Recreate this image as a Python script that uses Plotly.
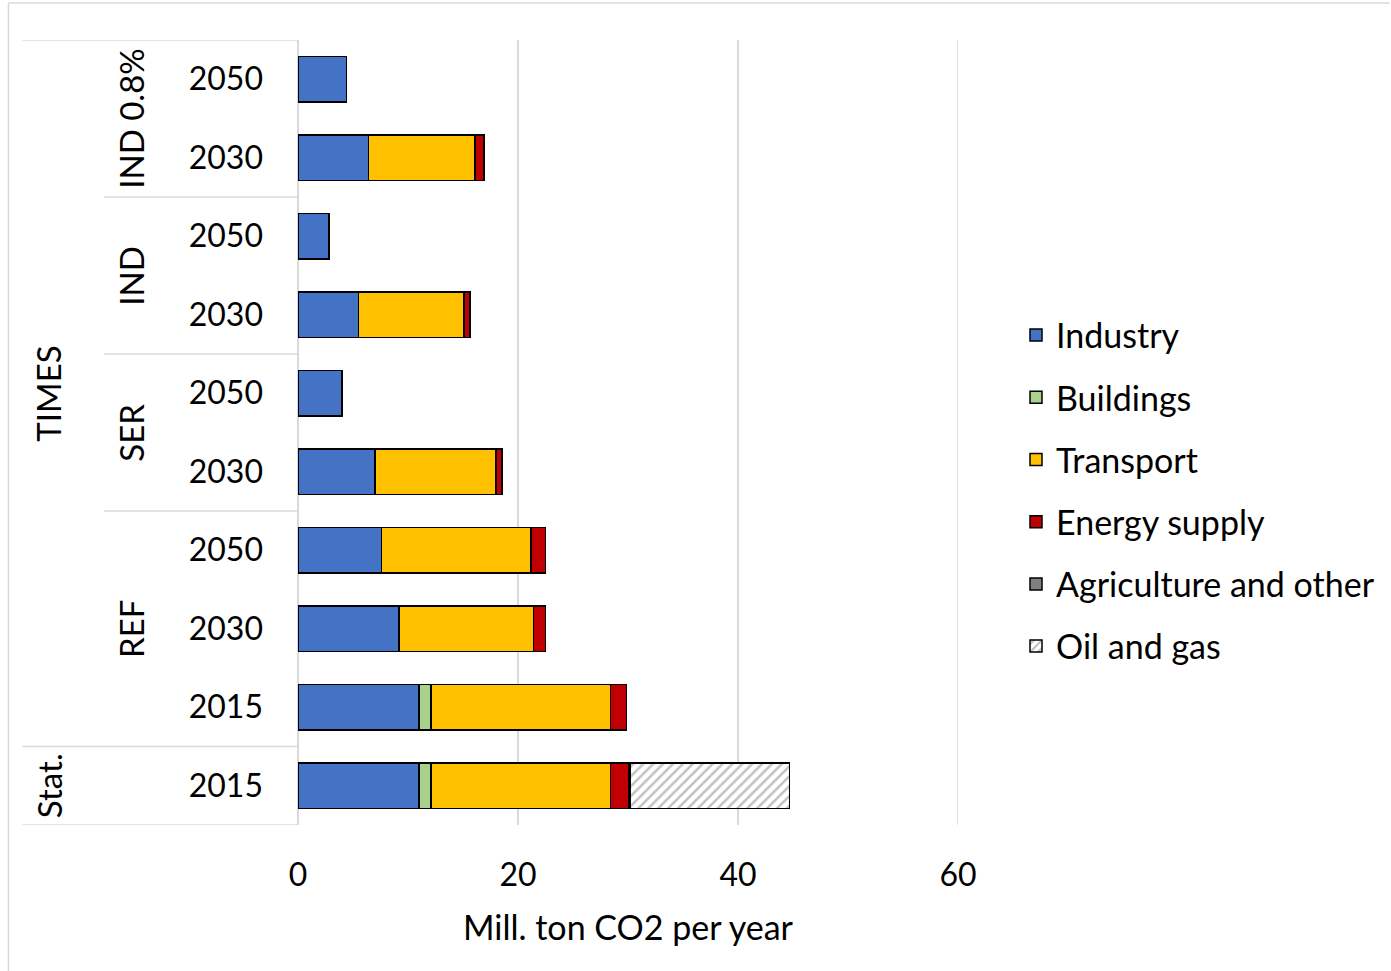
import plotly.graph_objects as go

# ---- data (top to bottom) ----
years = ["2050", "2030", "2050", "2030", "2050", "2030", "2050", "2030", "2015", "2015"]
scenarios = ["IND 0.8%", "IND 0.8%", "IND", "IND", "SER", "SER", "REF", "REF", "REF", "Stat."]
models = ["TIMES"] * 9 + ["Stat."]

industry = [4.4, 6.4, 2.8, 5.5, 4.0, 7.0, 7.6, 9.2, 11.0, 11.0]
buildings = [None, None, None, None, None, None, None, None, 1.1, 1.1]
transport = [None, 9.7, None, 9.6, None, 11.0, 13.6, 12.2, 16.3, 16.3]
energy_supply = [None, 0.8, None, 0.55, None, 0.55, 1.3, 1.1, 1.45, 1.7]
agriculture = [None, None, None, None, None, None, None, None, None, 0.12]
oil_gas = [None, None, None, None, None, None, None, None, None, 14.45]

x_ticks = [0, 20, 40, 60]
x_title = "Mill. ton CO2 per year"

cats = [f"{m}|{s}|{y}" for m, s, y in zip(models, scenarios, years)]

FONT = "Lato, 'Open Sans', sans-serif"
FS = 32
FS_WORD = 34
GRID = "#d9d9d9"

# plot-area pixel geometry
W, H = 1391, 971
L, R, T, B = 298, 959, 40, 825


def px(xp):
    return (xp - L) / (R - L)


def py(yp):
    return (B - yp) / (B - T)


fig = go.Figure()

series = [
    ("Industry", industry, "#4472C4", None),
    ("Buildings", buildings, "#A9D18E", None),
    ("Transport", transport, "#FFC000", None),
    ("Energy supply", energy_supply, "#C00000", None),
    ("Agriculture and other", agriculture, "#808080", None),
    ("Oil and gas", oil_gas, "white", "/"),
]

for name, vals, col, pat in series:
    marker = dict(color=col, line=dict(color="black", width=1.5))
    if pat:
        marker["pattern"] = dict(shape=pat, fgcolor="#7f7f7f", bgcolor="white",
                                 size=7, solidity=0.35)
    fig.add_trace(go.Bar(
        y=cats, x=vals, name=name, orientation="h", marker=marker,
        width=0.58, legendgroup=name,
    ))

shapes = []

# gridline at the last tick (plotly omits gridlines at the range edge)
shapes.append(dict(type="line", xref="x", yref="paper", x0=x_ticks[-1], x1=x_ticks[-1],
                   y0=0, y1=1, line=dict(color=GRID, width=1.5), layer="below"))

# category table lines
def hline(yv, x0p, x1p):
    shapes.append(dict(type="line", xref="paper", yref="y", x0=px(x0p), x1=px(x1p),
                       y0=yv, y1=yv, line=dict(color=GRID, width=1.5), layer="below"))

hline(-0.5, 22, 298)
hline(1.5, 104, 298)
hline(3.5, 104, 298)
hline(5.5, 104, 298)
hline(8.5, 22, 298)
hline(9.5, 22, 298)

# outer chart border (top and left)
shapes.append(dict(type="line", xref="paper", yref="paper", x0=px(8), x1=px(1391),
                   y0=py(3), y1=py(3), line=dict(color=GRID, width=1.5)))
shapes.append(dict(type="line", xref="paper", yref="paper", x0=px(8), x1=px(8),
                   y0=py(3), y1=py(971), line=dict(color=GRID, width=1.5)))

# scenario and model labels
annotations = []
def vlabel(text, xp, yv):
    annotations.append(dict(text=text, xref="paper", yref="y", x=px(xp), y=yv,
                            textangle=-90, showarrow=False,
                            font=dict(family=FONT, size=33, color="black"),
                            xanchor="center", yanchor="middle"))

vlabel("IND 0.8%", 130, 0.5)
vlabel("IND", 130, 2.5)
vlabel("SER", 130, 4.5)
vlabel("REF", 130, 7)
vlabel("TIMES", 48, 4)
vlabel("Stat.", 48, 9)

fig.update_layout(
    width=W, height=H,
    margin=dict(l=L, r=W - R, t=T, b=H - B),
    paper_bgcolor="white", plot_bgcolor="white",
    barmode="stack",
    font=dict(family=FONT, size=FS, color="black"),
    shapes=shapes, annotations=annotations,
    legend=dict(x=px(1016), y=py(491), xanchor="left", yanchor="middle",
                traceorder="grouped", tracegroupgap=15,
                font=dict(family=FONT, size=FS_WORD, color="black"),
                itemwidth=30),
    xaxis=dict(range=[0, 60], tickvals=x_ticks, showgrid=True, gridcolor=GRID,
               gridwidth=1.5, zeroline=True, zerolinecolor=GRID, zerolinewidth=1.5,
               showline=False, ticks="", ticklabelstandoff=28,
               title=dict(text=x_title, standoff=24,
                          font=dict(family=FONT, size=FS_WORD, color="black"))),
    yaxis=dict(categoryorder="array", categoryarray=cats, range=[9.5, -0.5],
               tickvals=cats, ticktext=years, showgrid=False, zeroline=False,
               showline=False, ticks="", ticklabelstandoff=34),
)

fig.write_html("out.html")
